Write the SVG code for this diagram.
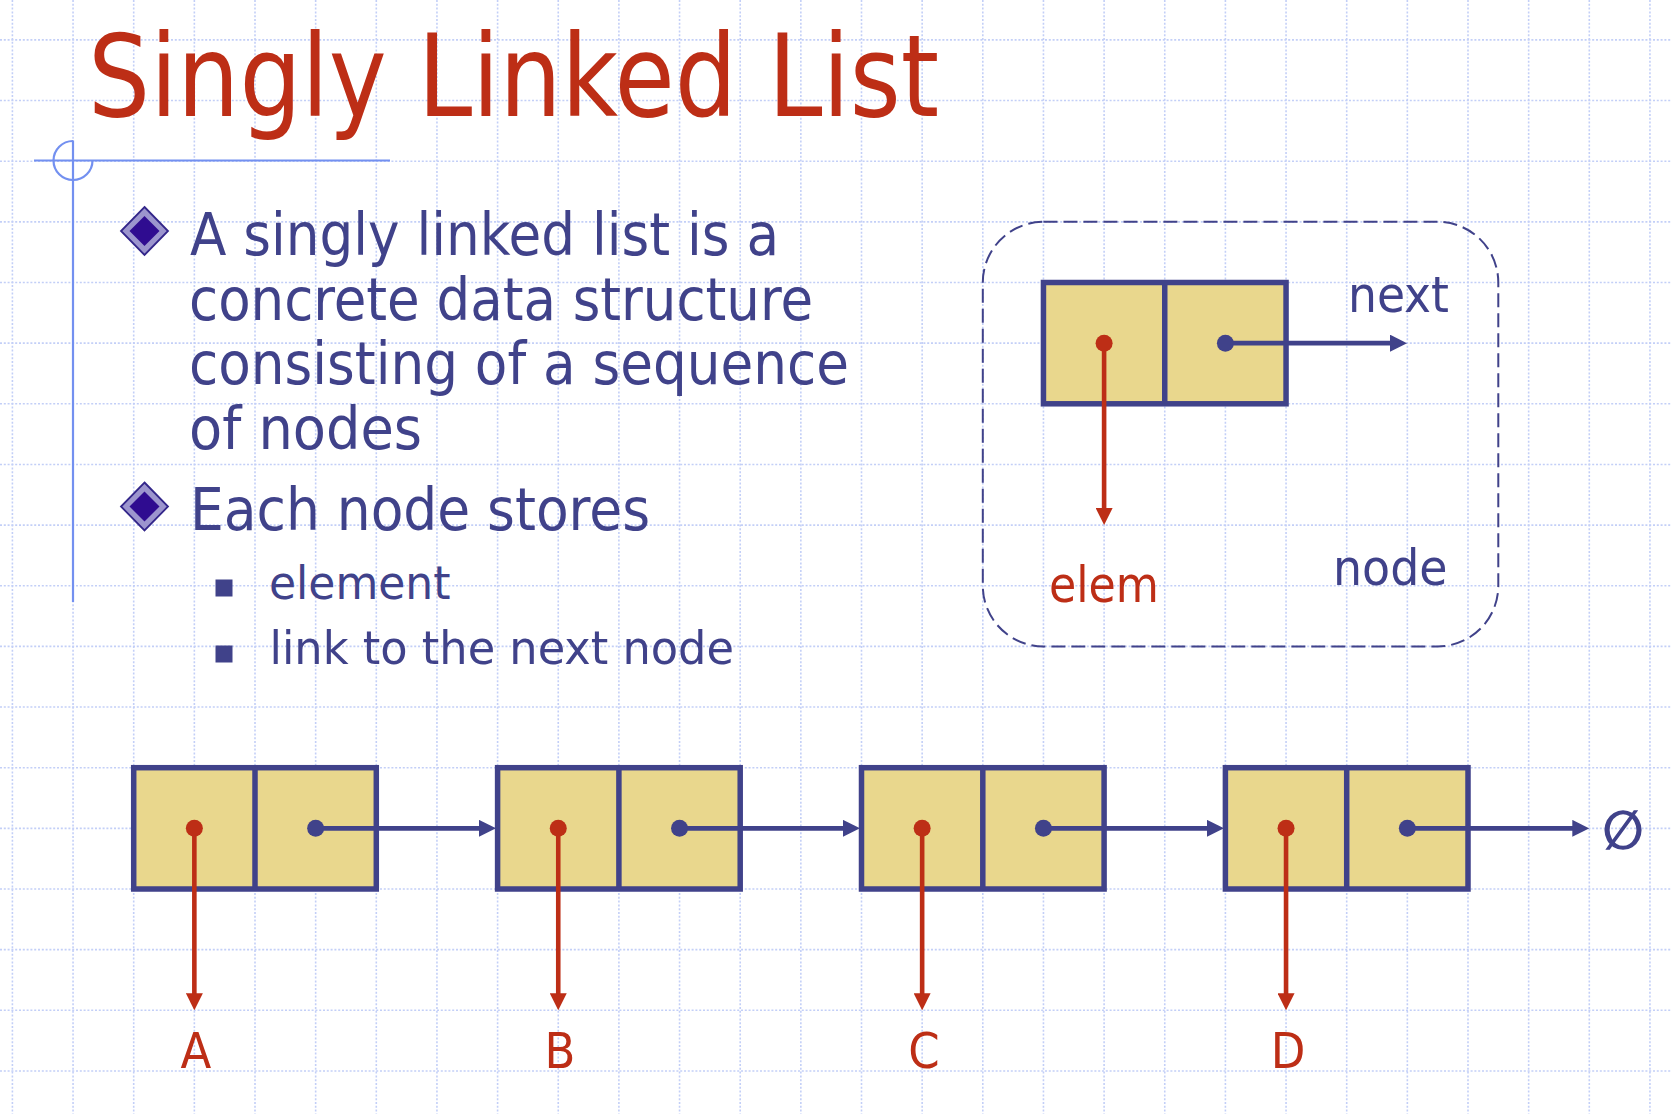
<svg xmlns="http://www.w3.org/2000/svg" width="1672" height="1114" viewBox="0 0 1672 1114">
<style>
  text { font-family: 'DejaVu Sans Condensed', 'DejaVu Sans', sans-serif; }
  .title { fill: #BD2E16; font-size: 114px; }
  .b1 { fill: #40428A; font-size: 58px; }
  .b2 { fill: #40428A; font-size: 47px; }
  .lblB { fill: #40428A; font-size: 50px; }
  .lblR { fill: #BD2E16; font-size: 50px; }
  .grid { stroke: #C3CFF7; stroke-width: 1.6; stroke-dasharray: 2 1.8; fill: none; }
  .deco { stroke: #7390F0; stroke-width: 2.2; fill: none; }
  .cell { fill: #E9D78D; stroke: #40428A; stroke-width: 5.5; }
  .div { stroke: #40428A; stroke-width: 5.5; }
  .lnB { stroke: #40428A; stroke-width: 4.6; fill: none; marker-end: url(#ahB); }
  .lnR { stroke: #BD2E16; stroke-width: 4.6; fill: none; marker-end: url(#ahR); }
  .dotB { fill: #40428A; }
  .dotR { fill: #BD2E16; }
</style>
<defs>
  <marker id="ahB" viewBox="0 0 17 17" refX="3" refY="8.5" markerWidth="17" markerHeight="17" markerUnits="userSpaceOnUse" orient="auto">
    <path d="M0,0 L17,8.5 L0,17 z" fill="#40428A"/>
  </marker>
  <marker id="ahR" viewBox="0 0 17 17" refX="3" refY="8.5" markerWidth="17" markerHeight="17" markerUnits="userSpaceOnUse" orient="auto">
    <path d="M0,0 L17,8.5 L0,17 z" fill="#BD2E16"/>
  </marker>
</defs>
<rect x="0" y="0" width="1672" height="1114" fill="#FFFFFF"/>
<g id="grid">
  <path class="grid" d="M12.4,0V1114 M73.05,0V1114 M133.7,0V1114 M194.35,0V1114 M255,0V1114 M315.65,0V1114 M376.3,0V1114 M436.95,0V1114 M497.6,0V1114 M558.25,0V1114 M618.9,0V1114 M679.55,0V1114 M740.2,0V1114 M800.85,0V1114 M861.5,0V1114 M922.15,0V1114 M982.8,0V1114 M1043.45,0V1114 M1104.1,0V1114 M1164.75,0V1114 M1225.4,0V1114 M1286.05,0V1114 M1346.7,0V1114 M1407.35,0V1114 M1468,0V1114 M1528.65,0V1114 M1589.3,0V1114 M1649.95,0V1114"/>
  <path class="grid" d="M0,39.9H1672 M0,100.55H1672 M0,161.2H1672 M0,221.85H1672 M0,282.5H1672 M0,343.15H1672 M0,403.8H1672 M0,464.45H1672 M0,525.1H1672 M0,585.75H1672 M0,646.4H1672 M0,707.05H1672 M0,767.7H1672 M0,828.35H1672 M0,889H1672 M0,949.65H1672 M0,1010.3H1672 M0,1070.95H1672"/>
</g>
<g id="decoration">
  <path class="deco" d="M34,160.5 H390 M73,140.5 V602"/>
  <path class="deco" d="M73,141 A19.5,19.5 0 1 0 92.5,160.5"/>
</g>
<g id="title">
  <text class="title" x="88" y="116" textLength="851" lengthAdjust="spacingAndGlyphs">Singly Linked List</text>
</g>
<g id="bullets">
  <g id="bullet1">
    <polygon points="144.5,207 168,231 144.5,255 121,231" fill="#9C95CE" stroke="#33268A" stroke-width="1.8"/>
    <polygon points="144.5,216 159.5,231 144.5,246 129.5,231" fill="#2F0C90"/>
    <text class="b1" x="190" y="255" textLength="589" lengthAdjust="spacingAndGlyphs">A singly linked list is a</text>
    <text class="b1" x="189" y="319.5" textLength="624" lengthAdjust="spacingAndGlyphs">concrete data structure</text>
    <text class="b1" x="189" y="384" textLength="660" lengthAdjust="spacingAndGlyphs">consisting of a sequence</text>
    <text class="b1" x="189" y="448.5" textLength="233" lengthAdjust="spacingAndGlyphs">of nodes</text>
  </g>
  <g id="bullet2">
    <polygon points="144.5,482.5 168,506.5 144.5,530.5 121,506.5" fill="#9C95CE" stroke="#33268A" stroke-width="1.8"/>
    <polygon points="144.5,491.5 159.5,506.5 144.5,521.5 129.5,506.5" fill="#2F0C90"/>
    <text class="b1" x="190" y="530" textLength="460" lengthAdjust="spacingAndGlyphs">Each node stores</text>
  </g>
  <g id="sub1">
    <rect x="215.5" y="579.5" width="17" height="17" fill="#40428A"/>
    <text class="b2" x="269" y="598.5" textLength="181.5" lengthAdjust="spacingAndGlyphs">element</text>
  </g>
  <g id="sub2">
    <rect x="215.5" y="645.5" width="17" height="17" fill="#40428A"/>
    <text class="b2" x="269.5" y="664" textLength="464.5" lengthAdjust="spacingAndGlyphs">link to the next node</text>
  </g>
</g>
<g id="legend">
  <rect x="982.8" y="221.85" width="515.5" height="424.55" rx="60.65" ry="60.65" fill="none" stroke="#40428A" stroke-width="2" stroke-dasharray="14 6"/>
  <g id="legend-node">
    <rect class="cell" x="1043.45" y="282.5" width="242.6" height="121.3"/>
    <line class="div" x1="1164.75" y1="282.5" x2="1164.75" y2="403.8"/>
  </g>
  <text class="lblB" x="1348" y="311.5" textLength="101" lengthAdjust="spacingAndGlyphs">next</text>
  <text class="lblB" x="1333" y="585" textLength="114.5" lengthAdjust="spacingAndGlyphs">node</text>
  <text class="lblR" x="1049" y="601.5" textLength="110" lengthAdjust="spacingAndGlyphs">elem</text>
</g>
<g id="nodeA">
  <rect class="cell" x="133.7" y="767.7" width="242.6" height="121.3"/>
  <line class="div" x1="255" y1="767.7" x2="255" y2="889"/>
  <text class="lblR" x="196" y="1067.5" text-anchor="middle">A</text>
</g>
<g id="nodeB">
  <rect class="cell" x="497.6" y="767.7" width="242.6" height="121.3"/>
  <line class="div" x1="618.9" y1="767.7" x2="618.9" y2="889"/>
  <text class="lblR" x="560" y="1067.5" text-anchor="middle">B</text>
</g>
<g id="nodeC">
  <rect class="cell" x="861.5" y="767.7" width="242.6" height="121.3"/>
  <line class="div" x1="982.8" y1="767.7" x2="982.8" y2="889"/>
  <text class="lblR" x="924" y="1067.5" text-anchor="middle">C</text>
</g>
<g id="nodeD">
  <rect class="cell" x="1225.4" y="767.7" width="242.6" height="121.3"/>
  <line class="div" x1="1346.7" y1="767.7" x2="1346.7" y2="889"/>
  <text class="lblR" x="1288" y="1067.5" text-anchor="middle">D</text>
</g>
<g id="null">
  <text x="1623" y="849" text-anchor="middle" font-size="54" font-weight="bold" fill="#40428A">∅</text>
</g>
<g id="connectors">
  <line class="lnR" x1="1104.1" y1="343.15" x2="1104.1" y2="511"/>
  <line class="lnB" x1="1225.4" y1="343.15" x2="1393" y2="343.15"/>
  <circle class="dotR" cx="1104.1" cy="343.15" r="8.5"/>
  <circle class="dotB" cx="1225.4" cy="343.15" r="8.5"/>

  <line class="lnR" x1="194.35" y1="828.35" x2="194.35" y2="996.3"/>
  <line class="lnR" x1="558.25" y1="828.35" x2="558.25" y2="996.3"/>
  <line class="lnR" x1="922.15" y1="828.35" x2="922.15" y2="996.3"/>
  <line class="lnR" x1="1286.05" y1="828.35" x2="1286.05" y2="996.3"/>
  <line class="lnB" x1="315.65" y1="828.35" x2="482" y2="828.35"/>
  <line class="lnB" x1="679.55" y1="828.35" x2="846" y2="828.35"/>
  <line class="lnB" x1="1043.45" y1="828.35" x2="1210" y2="828.35"/>
  <line class="lnB" x1="1407.35" y1="828.35" x2="1575.3" y2="828.35"/>
  <circle class="dotR" cx="194.35" cy="828.35" r="8.5"/>
  <circle class="dotR" cx="558.25" cy="828.35" r="8.5"/>
  <circle class="dotR" cx="922.15" cy="828.35" r="8.5"/>
  <circle class="dotR" cx="1286.05" cy="828.35" r="8.5"/>
  <circle class="dotB" cx="315.65" cy="828.35" r="8.5"/>
  <circle class="dotB" cx="679.55" cy="828.35" r="8.5"/>
  <circle class="dotB" cx="1043.45" cy="828.35" r="8.5"/>
  <circle class="dotB" cx="1407.35" cy="828.35" r="8.5"/>
</g>
</svg>
